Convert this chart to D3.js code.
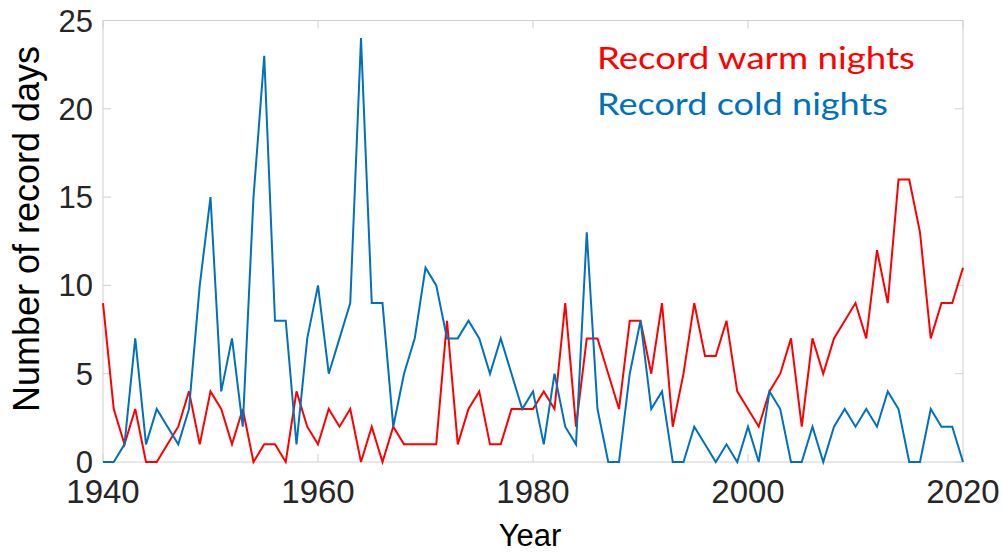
<!DOCTYPE html>
<html>
<head>
<meta charset="utf-8">
<script src="https://cdn.jsdelivr.net/npm/d3@7"></script>
<style>
  html, body { margin: 0; padding: 0; background: #fff; }
  svg { display: block; }
</style>
</head>
<body>
<svg id="chart" width="1002" height="552"></svg>
<script>
// ---- data ----
const years = d3.range(1940, 2021);
const warmNights = [
  9, 3, 1, 3, 0, 0, 1, 2, 4, 1,   // 1940s
  4, 3, 1, 3, 0, 1, 1, 0, 4, 2,   // 1950s
  1, 3, 2, 3, 0, 2, 0, 2, 1, 1,   // 1960s
  1, 1, 8, 1, 3, 4, 1, 1, 3, 3,   // 1970s
  3, 4, 3, 9, 2, 7, 7, 5, 3, 8,   // 1980s
  8, 5, 9, 2, 5, 9, 6, 6, 8, 4,   // 1990s
  3, 2, 4, 5, 7, 2, 7, 5, 7, 8,   // 2000s
  9, 7, 12, 9, 16, 16, 13, 7, 9, 9, // 2010s
  11
];
const coldNights = [
  0, 0, 1, 7, 1, 3, 2, 1, 3, 10,
  15, 4, 7, 2, 15, 23, 8, 8, 1, 7,
  10, 5, 7, 9, 24, 9, 9, 2, 5, 7,
  11, 10, 7, 7, 8, 7, 5, 7, 5, 3,
  4, 1, 5, 2, 1, 13, 3, 0, 0, 5,
  8, 3, 4, 0, 0, 2, 1, 0, 1, 0,
  2, 0, 4, 3, 0, 0, 2, 0, 2, 3,
  2, 3, 2, 4, 3, 0, 0, 3, 2, 2,
  0
];
const xTicks = [1940, 1960, 1980, 2000, 2020];
const yTicks = [0, 5, 10, 15, 20, 25];
const series = [
  { name: 'Record warm nights', values: warmNights, color: '#ff0000' },
  { name: 'Record cold nights', values: coldNights, color: '#0072bd' },
];

// ---- layout ----
const svg = d3.select('#chart');
const m = { l: 103, r: 963, t: 20.5, b: 462 };
const axisColor = '#d0d0d0';
const tickText = '#262626';
const tickLen = 8;

const x = d3.scaleLinear().domain([1940, 2020]).range([m.l, m.r]);
const y = d3.scaleLinear().domain([0, 25]).range([m.b, m.t]);

// box
svg.append('rect')
  .attr('x', m.l).attr('y', m.t)
  .attr('width', m.r - m.l).attr('height', m.b - m.t)
  .attr('fill', 'none').attr('stroke', axisColor).attr('stroke-width', 1);

// inward ticks, all four sides
const ticks = svg.append('g').attr('stroke', axisColor).attr('stroke-width', 1);
xTicks.forEach(t => {
  ticks.append('line').attr('x1', x(t)).attr('x2', x(t)).attr('y1', m.b).attr('y2', m.b - tickLen);
  ticks.append('line').attr('x1', x(t)).attr('x2', x(t)).attr('y1', m.t).attr('y2', m.t + tickLen);
});
yTicks.forEach(t => {
  ticks.append('line').attr('x1', m.l).attr('x2', m.l + tickLen).attr('y1', y(t)).attr('y2', y(t));
  ticks.append('line').attr('x1', m.r).attr('x2', m.r - tickLen).attr('y1', y(t)).attr('y2', y(t));
});

// tick labels
svg.append('g').selectAll('text').data(xTicks).join('text')
  .attr('x', d => x(d)).attr('y', 503)
  .attr('text-anchor', 'middle')
  .attr('font-family', '"Liberation Sans", Arial, sans-serif')
  .attr('font-size', 33).attr('fill', tickText)
  .text(d => d);

svg.append('g').selectAll('text').data(yTicks).join('text')
  .attr('x', 93).attr('y', d => y(d) + 11)
  .attr('text-anchor', 'end')
  .attr('font-family', '"Liberation Sans", Arial, sans-serif')
  .attr('font-size', 31).attr('fill', tickText)
  .text(d => d);

// axis titles
svg.append('text')
  .attr('x', 530).attr('y', 546)
  .attr('text-anchor', 'middle')
  .attr('font-family', '"Liberation Sans", Arial, sans-serif')
  .attr('font-size', 31).attr('fill', '#000')
  .text('Year');

svg.append('text')
  .attr('transform', 'translate(39,229) rotate(-90)')
  .attr('text-anchor', 'middle')
  .attr('font-family', '"Liberation Sans", Arial, sans-serif')
  .attr('font-size', 36).attr('fill', '#000')
  .text('Number of record days');

// lines
const line = d3.line().x((d, i) => x(years[i])).y(d => y(d));
svg.append('g').selectAll('path').data(series).join('path')
  .attr('fill', 'none')
  .attr('stroke', d => d.color)
  .attr('stroke-width', 2)
  .attr('d', d => line(d.values));

// legend (plain coloured text)
const legendW = [318, 291];
svg.append('g').selectAll('text').data(series).join('text')
  .attr('x', 597).attr('y', (d, i) => 69 + i * 46)
  .attr('font-family', 'Lato, "Open Sans", sans-serif')
  .attr('font-size', 31)
  .attr('textLength', (d, i) => legendW[i])
  .attr('lengthAdjust', 'spacingAndGlyphs')
  .attr('fill', d => d.color)
  .text(d => d.name);
</script>
</body>
</html>
